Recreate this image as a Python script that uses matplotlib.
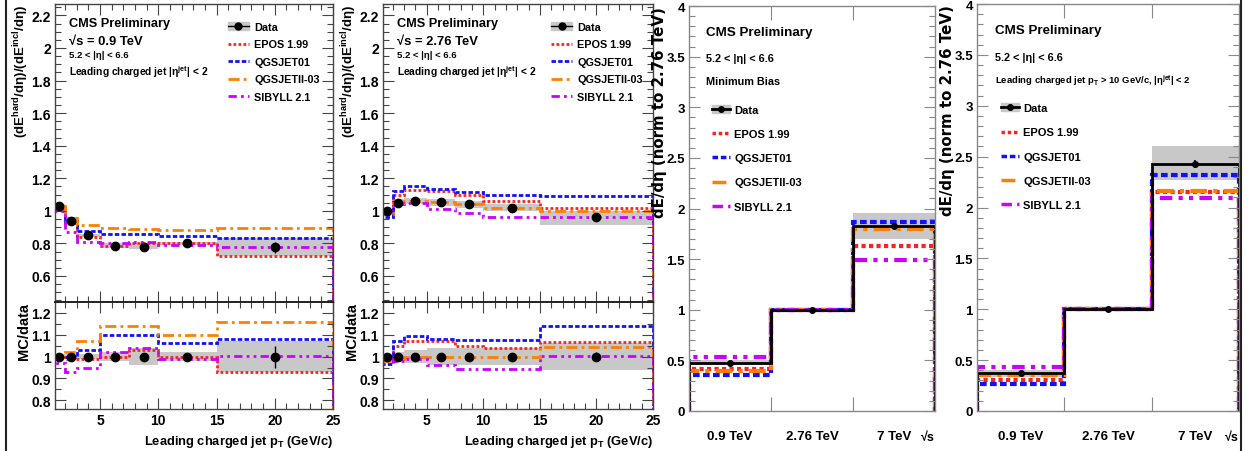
import matplotlib
matplotlib.use('Agg')
import matplotlib.pyplot as plt
from matplotlib.patches import Patch
from matplotlib.lines import Line2D
from matplotlib.ticker import MultipleLocator

FAM = ['Liberation Sans', 'DejaVu Sans']
plt.rcParams['font.family'] = FAM
plt.rcParams['font.weight'] = 'bold'
plt.rcParams['axes.labelweight'] = 'bold'
plt.rcParams['mathtext.fontset'] = 'custom'
plt.rcParams['mathtext.rm'] = 'Liberation Sans:bold'
plt.rcParams['mathtext.it'] = 'Liberation Sans:bold'
plt.rcParams['mathtext.bf'] = 'Liberation Sans:bold'

# ---------------- data: pT-binned ratios ----------------
pt_edges = [1, 2, 3, 5, 7.5, 10, 15, 25]
pt_centers = [1.5, 2.5, 4, 6.25, 8.75, 12.5, 20]

# sqrt(s) = 0.9 TeV
data09 = [1.03, 0.935, 0.85, 0.785, 0.78, 0.80, 0.775]
data09_lo = [1.02, 0.925, 0.84, 0.77, 0.765, 0.79, 0.72]
data09_hi = [1.04, 0.945, 0.86, 0.80, 0.80, 0.81, 0.83]
data09_err = [0.006, 0.006, 0.006, 0.006, 0.006, 0.006, 0.035]
epos09 = [1.03, 0.925, 0.84, 0.785, 0.80, 0.80, 0.72]
qgs01_09 = [1.02, 0.94, 0.875, 0.86, 0.855, 0.845, 0.835]
qgs2_09 = [1.03, 0.955, 0.91, 0.895, 0.89, 0.88, 0.895]
sib09 = [1.00, 0.87, 0.81, 0.80, 0.81, 0.79, 0.775]
r_epos09 = [1.0, 0.99, 0.99, 1.0, 1.03, 1.0, 0.93]
r_qgs01_09 = [1.0, 1.0, 1.03, 1.10, 1.10, 1.06, 1.08]
r_qgs2_09 = [1.0, 1.02, 1.07, 1.14, 1.14, 1.10, 1.16]
r_sib09 = [0.97, 0.93, 0.95, 1.02, 1.04, 0.99, 1.005]
r_band09_lo = [0.99, 0.99, 0.99, 0.98, 0.96, 0.98, 0.93]
r_band09_hi = [1.01, 1.01, 1.01, 1.02, 1.04, 1.02, 1.07]
r_err09 = [0.005, 0.005, 0.005, 0.005, 0.005, 0.005, 0.05]

# sqrt(s) = 2.76 TeV
data276 = [1.0, 1.05, 1.06, 1.055, 1.04, 1.02, 0.96]
data276_lo = [0.99, 1.03, 1.04, 1.03, 1.02, 1.00, 0.91]
data276_hi = [1.01, 1.07, 1.08, 1.07, 1.06, 1.04, 1.00]
data276_err = [0.006, 0.006, 0.006, 0.006, 0.006, 0.006, 0.02]
epos276 = [0.98, 1.10, 1.13, 1.12, 1.10, 1.06, 1.02]
qgs01_276 = [0.96, 1.12, 1.155, 1.135, 1.115, 1.095, 1.09]
qgs2_276 = [0.98, 1.045, 1.06, 1.055, 1.04, 1.02, 1.00]
sib276 = [1.0, 1.04, 1.045, 1.01, 0.985, 0.965, 0.965]
r_epos276 = [0.98, 1.05, 1.07, 1.07, 1.05, 1.04, 1.065]
r_qgs01_276 = [0.965, 1.07, 1.095, 1.08, 1.075, 1.075, 1.14]
r_qgs2_276 = [0.98, 0.99, 1.0, 1.0, 1.0, 1.0, 1.045]
r_sib276 = [1.0, 0.98, 0.99, 0.96, 0.945, 0.945, 1.005]
r_band276_lo = [0.99, 0.98, 0.97, 0.96, 0.96, 0.96, 0.94]
r_band276_hi = [1.01, 1.02, 1.03, 1.04, 1.04, 1.04, 1.06]
r_err276 = [0.005, 0.005, 0.005, 0.005, 0.005, 0.005, 0.02]

# ---------------- data: energy dependence ----------------
energies = ['0.9 TeV', '2.76 TeV', '7 TeV']
mb_data = [0.47, 1.0, 1.83]
mb_lo = [0.45, 1.0, 1.70]
mb_hi = [0.50, 1.0, 1.96]
mb_err = [0.02, 0.02, 0.03]
mb_epos = [0.41, 1.0, 1.63]
mb_qgs01 = [0.36, 1.0, 1.87]
mb_qgs2 = [0.40, 1.0, 1.80]
mb_sib = [0.53, 1.0, 1.49]

jet_data = [0.37, 1.0, 2.43]
jet_lo = [0.33, 1.0, 2.27]
jet_hi = [0.40, 1.0, 2.60]
jet_err = [0.02, 0.02, 0.04]
jet_epos = [0.30, 1.0, 2.15]
jet_qgs01 = [0.27, 1.0, 2.32]
jet_qgs2 = [0.35, 1.0, 2.16]
jet_sib = [0.43, 1.0, 2.09]

models = ['EPOS 1.99', 'QGSJET01', 'QGSJETII-03', 'SIBYLL 2.1']
colors = ['#ff2020', '#1010ff', '#ff7f00', '#cc00ff']
styles = [(0, (1, 0.8)), (0, (1.6, 0.8)), (0, (4, 1.5, 1, 1.5)), (0, (3, 1.5, 1, 1.5, 1, 1.5))]
BAND = '#c8c8c8'

W, H = 1250, 452
fig = plt.figure(figsize=(W / 100, H / 100), dpi=100)


def box(l, t, r, b):
    return [l / W, 1 - b / H, (r - l) / W, (b - t) / H]


def style_axes(ax, col, size=10):
    for s in ax.spines.values():
        s.set_color(col)
        s.set_linewidth(1.0)
    ax.tick_params(which='both', direction='in', top=True, right=True, color=col,
                   labelsize=size, pad=3)
    ax.tick_params(which='major', length=8, width=0.8)
    ax.tick_params(which='minor', length=4, width=0.8)


def bold_ticks(ax):
    for lab in ax.get_xticklabels() + ax.get_yticklabels():
        lab.set_fontweight('bold')


def pt_panel(l, r, main, lo, hi, err, mcs, rats, rlo, rhi, rerr, energy_txt):
    axm = fig.add_axes(box(l, 5, r, 303))
    axr = fig.add_axes(box(l, 303, r, 410))
    for ax in (axm, axr):
        style_axes(ax, '#444444')
        ax.set_xlim(1.13, 25)
        ax.xaxis.set_major_locator(MultipleLocator(5))
        ax.xaxis.set_minor_locator(MultipleLocator(1))
    axr.spines['top'].set_color('#222222')
    axr.spines['top'].set_linewidth(1.4)
    axm.tick_params(labelbottom=False)
    # main
    axm.stairs(hi, pt_edges, baseline=lo, fill=True, color=BAND, lw=0)
    for vals, c, ls in zip(mcs, colors, styles):
        axm.stairs(vals, pt_edges, color=c, ls=ls, lw=2.0)
    axm.errorbar(pt_centers, main, yerr=err, fmt='o', color='black', ms=6, lw=1, capsize=0)
    axm.set_ylim(0.44, 2.27)
    axm.yaxis.set_minor_locator(MultipleLocator(0.05))
    axm.set_yticks([0.6, 0.8, 1.0, 1.2, 1.4, 1.6, 1.8, 2.0, 2.2],
                   ['0.6', '0.8', '1', '1.2', '1.4', '1.6', '1.8', '2', '2.2'])
    axm.set_ylabel('(dE$^{hard}$/dη)/(dE$^{incl}$/dη)', loc='top', fontsize=9.5)
    lx = -24 / (r - l)
    axm.yaxis.set_label_coords(lx, 1.0)
    # ratio
    ones = [1.0] * len(pt_centers)
    axr.stairs(rhi, pt_edges, baseline=rlo, fill=True, color=BAND, lw=0)
    for vals, c, ls in zip(rats, colors, styles):
        axr.stairs(vals, pt_edges, color=c, ls=ls, lw=2.0)
    axr.errorbar(pt_centers, ones, yerr=rerr, fmt='o', color='black', ms=6, lw=1, capsize=0)
    axr.set_ylim(0.76, 1.25)
    axr.yaxis.set_minor_locator(MultipleLocator(0.05))
    axr.set_yticks([0.8, 0.9, 1.0, 1.1, 1.2], ['0.8', '0.9', '1', '1.1', '1.2'])
    axr.set_ylabel('MC/data', loc='top', fontsize=10.5)
    axr.yaxis.set_label_coords(lx, 1.0)
    axr.set_xlabel('Leading charged jet p$_{T}$ (GeV/c)', loc='right', fontsize=9.3, labelpad=4)
    bold_ticks(axm)
    bold_ticks(axr)
    # texts
    axm.text(0.052, 0.935, 'CMS Preliminary', transform=axm.transAxes, fontsize=9.2, va='center')
    axm.text(0.052, 0.875, '√s = ' + energy_txt, transform=axm.transAxes, fontsize=9.4, va='center')
    axm.text(0.052, 0.83, '5.2 < |η| < 6.6', transform=axm.transAxes, fontsize=6.8, va='center')
    axm.text(0.052, 0.775, 'Leading charged jet |η$^{jet}$| < 2', transform=axm.transAxes,
             fontsize=7.4, va='center')
    handles = [(Patch(color=BAND), Line2D([], [], color='black', marker='o', ms=5, lw=1))]
    handles += [Line2D([], [], color=c, ls=ls, lw=2) for c, ls in zip(colors, styles)]
    axm.legend(handles, ['Data'] + models, loc='upper left', bbox_to_anchor=(0.605, 0.955),
               frameon=False, fontsize=7.8, handlelength=2.0, labelspacing=0.7,
               handletextpad=0.45, borderaxespad=0)
    return axm, axr


pt_panel(55, 333, data09, data09_lo, data09_hi, data09_err,
         [epos09, qgs01_09, qgs2_09, sib09], [r_epos09, r_qgs01_09, r_qgs2_09, r_sib09],
         r_band09_lo, r_band09_hi, r_err09, '0.9 TeV')
pt_panel(383, 653, data276, data276_lo, data276_hi, data276_err,
         [epos276, qgs01_276, qgs2_276, sib276], [r_epos276, r_qgs01_276, r_qgs2_276, r_sib276],
         r_band276_lo, r_band276_hi, r_err276, '2.76 TeV')


def energy_panel(l, t, r, vals, lo, hi, err, mcs, texts):
    ax = fig.add_axes(box(l, t, r, 412))
    style_axes(ax, '#888888', size=9.5)
    edges = list(range(len(energies) + 1))
    centers = [i + 0.5 for i in range(len(energies))]
    ax.stairs(hi, edges, baseline=lo, fill=True, color=BAND, lw=0)
    for v, c, ls in zip(mcs, colors, styles):
        ax.stairs(v, edges, color=c, ls=ls, lw=3.0)
    ax.stairs(vals, edges, color='black', lw=2.0)
    ax.errorbar(centers, vals, yerr=err, fmt='o', color='black', ms=4, lw=1.2, capsize=0)
    ax.set_xlim(0, len(energies))
    ax.set_ylim(0, 4)
    ax.set_xticks(centers, energies)
    ax.set_xticks(edges[1:-1], minor=True)
    ax.tick_params(axis='x', which='major', length=0, pad=14, labelsize=9.5)
    ax.tick_params(axis='x', which='minor', length=10)
    ax.yaxis.set_minor_locator(MultipleLocator(0.1))
    ax.set_yticks([0, 0.5, 1, 1.5, 2, 2.5, 3, 3.5, 4],
                  ['0', '0.5', '1', '1.5', '2', '2.5', '3', '3.5', '4'])
    bold_ticks(ax)
    ax.set_ylabel('dE/dη (norm to 2.76 TeV)', loc='top', fontsize=10.8, family=['DejaVu Sans'])
    ax.yaxis.set_label_coords(-22 / (r - l), 1.0)
    ax.text(1.0, -0.05, '√s', transform=ax.transAxes, ha='right', va='top', fontsize=9)
    ys = [0.936, 0.871, 0.815]
    for (txt, fs), y in zip(texts, ys):
        ax.text(0.07, y, txt, transform=ax.transAxes, va='center', fontsize=fs)
    handles = [(Patch(color=BAND), Line2D([], [], color='black', marker='o', ms=4, lw=2))]
    handles += [Line2D([], [], color=c, ls=ls, lw=2.5) for c, ls in zip(colors, styles)]
    ax.legend(handles, ['Data'] + models, loc='upper left', bbox_to_anchor=(0.075, 0.767),
              frameon=False, handlelength=1.6, labelspacing=1.28, fontsize=8,
              handletextpad=0.4, borderaxespad=0)
    return ax


energy_panel(689, 7, 935, mb_data, mb_lo, mb_hi, mb_err, [mb_epos, mb_qgs01, mb_qgs2, mb_sib],
             [('CMS Preliminary', 9.6), ('5.2 < |η| < 6.6', 7.8), ('Minimum Bias', 7.8)])
energy_panel(977, 5, 1239, jet_data, jet_lo, jet_hi, jet_err, [jet_epos, jet_qgs01, jet_qgs2, jet_sib],
             [('CMS Preliminary', 9.6), ('5.2 < |η| < 6.6', 7.8),
              ('Leading charged jet p$_{T}$ > 10 GeV/c, |η$^{jet}$| < 2', 6.8)])

# outer frame lines of the composed image
fig.add_artist(Line2D([6 / W, 6 / W], [0, 1], transform=fig.transFigure, color='#222222', lw=1.5))
fig.add_artist(Line2D([1241 / W, 1241 / W], [0, 1], transform=fig.transFigure, color='#222222', lw=1.5))

fig.savefig('out.png', dpi=100)
